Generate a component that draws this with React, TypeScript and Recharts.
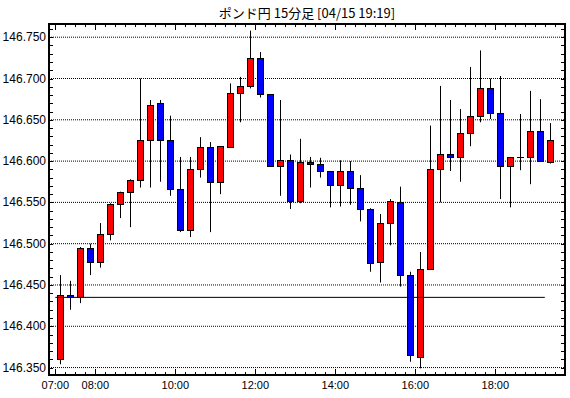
import { Bar, CartesianGrid, ComposedChart, ReferenceLine, XAxis, YAxis } from "recharts";

const TITLE = "ポンド円 15分足 [04/15 19:19]";

// 15分足 07:00 - 19:15
const TIMES = [
  "07:00", "07:15", "07:30", "07:45", "08:00", "08:15", "08:30", "08:45",
  "09:00", "09:15", "09:30", "09:45", "10:00", "10:15", "10:30", "10:45",
  "11:00", "11:15", "11:30", "11:45", "12:00", "12:15", "12:30", "12:45",
  "13:00", "13:15", "13:30", "13:45", "14:00", "14:15", "14:30", "14:45",
  "15:00", "15:15", "15:30", "15:45", "16:00", "16:15", "16:30", "16:45",
  "17:00", "17:15", "17:30", "17:45", "18:00", "18:15", "18:30", "18:45",
  "19:00", "19:15",
];
const OPEN = [
  146.360, 146.438, 146.436, 146.495, 146.478, 146.512, 146.548, 146.562,
  146.577, 146.625, 146.670, 146.625, 146.566, 146.516, 146.590, 146.617,
  146.575, 146.617, 146.683, 146.691, 146.725, 146.681, 146.594, 146.601,
  146.552, 146.599, 146.596, 146.588, 146.571, 146.588, 146.568, 146.542,
  146.478, 146.525, 146.551, 146.462, 146.363, 146.469, 146.590, 146.609,
  146.605, 146.634, 146.654, 146.689, 146.658, 146.594, 146.605, 146.605,
  146.636, 146.599,
];
const HIGH = [
  146.462, 146.455, 146.496, 146.500, 146.525, 146.549, 146.563, 146.578,
  146.700, 146.674, 146.674, 146.655, 146.605, 146.605, 146.629, 146.623,
  146.618, 146.694, 146.702, 146.758, 146.732, 146.681, 146.674, 146.608,
  146.627, 146.605, 146.604, 146.588, 146.601, 146.600, 146.583, 146.543,
  146.536, 146.554, 146.569, 146.466, 146.490, 146.643, 146.691, 146.674,
  146.663, 146.714, 146.734, 146.700, 146.703, 146.605, 146.657, 146.685,
  146.675, 146.646,
];
const LOW = [
  146.354, 146.420, 146.428, 146.462, 146.471, 146.504, 146.531, 146.520,
  146.568, 146.568, 146.575, 146.558, 146.514, 146.508, 146.580, 146.514,
  146.560, 146.616, 146.647, 146.688, 146.677, 146.593, 146.558, 146.542,
  146.549, 146.568, 146.580, 146.544, 146.545, 146.547, 146.527, 146.466,
  146.453, 146.498, 146.448, 146.357, 146.349, 146.469, 146.550, 146.588,
  146.575, 146.618, 146.647, 146.651, 146.554, 146.544, 146.589, 146.572,
  146.600, 146.597,
];
const CLOSE = [
  146.438, 146.436, 146.495, 146.478, 146.512, 146.548, 146.562, 146.577,
  146.625, 146.668, 146.626, 146.566, 146.516, 146.591, 146.617, 146.575,
  146.618, 146.683, 146.691, 146.725, 146.681, 146.594, 146.601, 146.552,
  146.599, 146.596, 146.588, 146.571, 146.588, 146.568, 146.542, 146.477,
  146.525, 146.552, 146.462, 146.365, 146.469, 146.590, 146.609, 146.605,
  146.634, 146.654, 146.689, 146.658, 146.594, 146.605, 146.605, 146.636,
  146.600, 146.626,
];

const X_LABELS = ["07:00", "08:00", "10:00", "12:00", "14:00", "16:00", "18:00"];
const Y_LABELS = ["146.350", "146.400", "146.450", "146.500", "146.550", "146.600", "146.650", "146.700", "146.750"];
const BASE_PRICE = 146.435; // 横線

// plot frame (px)
const W = 570;
const H = 398;
const PLOT_LEFT = 49;
const PLOT_RIGHT = 565;
const PLOT_TOP = 24;
const PLOT_BOTTOM = 375;

const UP = "#ff0000";
const DOWN = "#0000ff";
const FONT = "'Liberation Sans', Arial, sans-serif";

const data = TIMES.map((t, i) => ({
  i,
  time: t,
  open: OPEN[i],
  high: HIGH[i],
  low: LOW[i],
  close: CLOSE[i],
  range: [LOW[i], HIGH[i]],
}));

// slot edges (between candles) -> tick marks
const EDGE_TIMES = [...TIMES, "19:30"];
const xTicks = EDGE_TIMES.map((_, k) => k - 0.5);

const yTicks: number[] = [];
for (let k = 0; k <= 41; k++) yTicks.push(Number((146.35 + k * 0.01).toFixed(3)));
const gridValues = Y_LABELS.map(Number);

function Candle(props: any) {
  const { x, y, width, height, payload } = props;
  const { open, close, high, low } = payload;
  const cx = Math.round(x + width / 2) + 0.5;
  const k = high > low ? height / (high - low) : 0;
  const yOf = (v: number) => y + (high - v) * k;
  const top = Math.round(yOf(Math.max(open, close))) + 0.5;
  const bot = Math.round(yOf(Math.min(open, close))) + 0.5;
  const up = close > open;
  return (
    <g>
      <line x1={cx} x2={cx} y1={y} y2={y + height} stroke="#000" strokeWidth={1} />
      {bot - top < 1 ? (
        <line x1={cx - 3.5} x2={cx + 3.5} y1={top} y2={top} stroke="#000" strokeWidth={1} />
      ) : (
        <rect x={cx - 3} y={top} width={6} height={bot - top} fill={up ? UP : DOWN} stroke="#000" strokeWidth={1} />
      )}
    </g>
  );
}

function XTick(props: any) {
  const { x, payload } = props;
  const label = EDGE_TIMES[Math.round(payload.value + 0.5)];
  const major = X_LABELS.includes(label);
  const len = major ? 6 : 3;
  const px = Math.round(x) + 0.5;
  return (
    <g>
      <line x1={px} x2={px} y1={PLOT_BOTTOM} y2={PLOT_BOTTOM - len} stroke="#000" />
      <line x1={px} x2={px} y1={PLOT_TOP} y2={PLOT_TOP + len} stroke="#000" />
      {major && (
        <text x={x} y={389} textAnchor="middle" fontSize={11} fontFamily={FONT} fill="#000">
          {label}
        </text>
      )}
    </g>
  );
}

function YTick(props: any) {
  const { y, payload } = props;
  const label = payload.value.toFixed(3);
  const major = Y_LABELS.includes(label);
  const py = Math.round(y) + 0.5;
  return (
    <g>
      <line x1={PLOT_LEFT} x2={PLOT_LEFT + 4} y1={py} y2={py} stroke="#000" />
      <line x1={PLOT_RIGHT} x2={PLOT_RIGHT - 4} y1={py} y2={py} stroke="#000" />
      {major && (
        <text x={PLOT_LEFT - 3} y={y + 4} textAnchor="end" fontSize={12} fontFamily={FONT} fill="#000">
          {label}
        </text>
      )}
    </g>
  );
}

export default function App() {
  return (
    <div style={{ position: "absolute", left: 0, top: 0, width: W, height: H, background: "#fff" }}>
      <div
        style={{
          position: "absolute",
          left: PLOT_LEFT,
          right: W - PLOT_RIGHT,
          top: 4,
          textAlign: "center",
          fontFamily: "'Noto Sans CJK JP', sans-serif",
          fontSize: 13,
          lineHeight: "17px",
          color: "#000",
        }}
      >
        {TITLE}
      </div>
      <ComposedChart
        width={W}
        height={H}
        data={data}
        margin={{ top: PLOT_TOP, right: W - PLOT_RIGHT, bottom: 0, left: 0 }}
      >
        <CartesianGrid vertical={false} horizontalValues={gridValues} stroke="#000" strokeDasharray="1 1" />
        <XAxis
          type="number"
          dataKey="i"
          domain={[-1.13, 50.47]}
          ticks={xTicks}
          interval={0}
          height={H - PLOT_BOTTOM}
          axisLine={false}
          tickLine={false}
          tickSize={0}
          tick={<XTick />}
          allowDataOverflow
        />
        <YAxis
          type="number"
          domain={[146.341, 146.766]}
          ticks={yTicks}
          interval={0}
          width={PLOT_LEFT}
          axisLine={false}
          tickLine={false}
          tickSize={0}
          tick={<YTick />}
          allowDataOverflow
        />
        <Bar dataKey="range" barSize={10} shape={<Candle />} isAnimationActive={false} />
        <ReferenceLine
          segment={[
            { x: -0.5, y: BASE_PRICE },
            { x: 48.45, y: BASE_PRICE },
          ]}
          stroke="#000"
          strokeWidth={1}
        />
      </ComposedChart>
      <div
        style={{
          position: "absolute",
          left: PLOT_LEFT - 1,
          top: PLOT_TOP - 1,
          width: PLOT_RIGHT - PLOT_LEFT + 2,
          height: PLOT_BOTTOM - PLOT_TOP + 2,
          border: "2px solid #000",
          boxSizing: "border-box",
          pointerEvents: "none",
        }}
      />
    </div>
  );
}
